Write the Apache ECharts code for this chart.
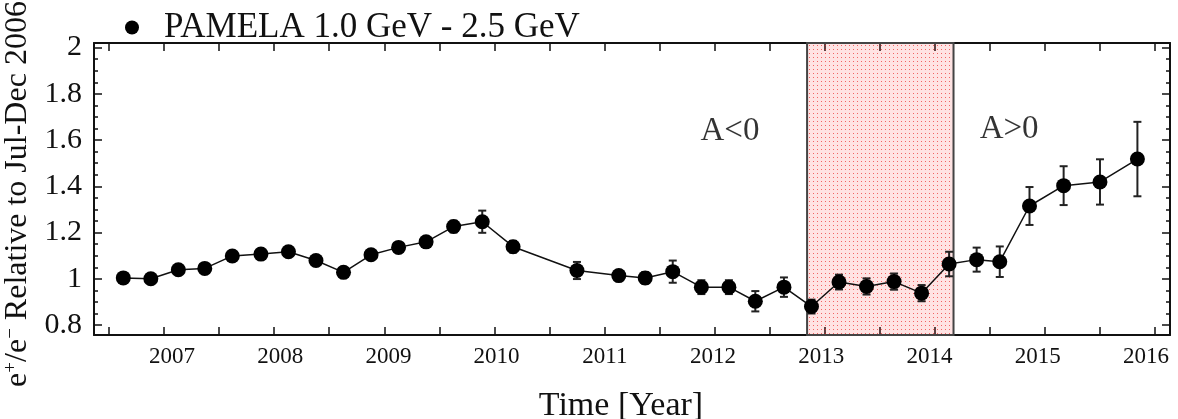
<!DOCTYPE html>
<html><head><meta charset="utf-8">
<script src="https://cdn.jsdelivr.net/npm/echarts@6/dist/echarts.min.js"></script>
<style>html,body{margin:0;padding:0;background:#fff}#c{width:1178px;height:419px}</style>
</head><body><div id="c"></div>
<script>
// ---- data ----
const seriesName = 'PAMELA 1.0 GeV - 2.5 GeV';
const years = [2006.63, 2006.88, 2007.13, 2007.37, 2007.62, 2007.88, 2008.13, 2008.38, 2008.63, 2008.88,
  2009.13, 2009.38, 2009.63, 2009.89, 2010.17, 2010.75, 2011.13, 2011.37, 2011.62, 2011.88,
  2012.13, 2012.37, 2012.63, 2012.88, 2013.13, 2013.38, 2013.63, 2013.88, 2014.13, 2014.38,
  2014.59, 2014.86, 2015.17, 2015.50, 2015.84];
const ratio = [1.004, 1.000, 1.039, 1.045, 1.099, 1.107, 1.117, 1.079, 1.028, 1.104,
  1.136, 1.160, 1.226, 1.247, 1.139, 1.036, 1.014, 1.004, 1.031, 0.964,
  0.964, 0.903, 0.964, 0.880, 0.986, 0.967, 0.988, 0.938, 1.064, 1.083,
  1.074, 1.315, 1.403, 1.419, 1.518];
const errors = [0.012, 0.012, 0.012, 0.012, 0.015, 0.015, 0.015, 0.015, 0.015, 0.015,
  0.015, 0.018, 0.025, 0.048, 0.025, 0.037, 0.020, 0.025, 0.048, 0.030,
  0.030, 0.044, 0.042, 0.030, 0.032, 0.035, 0.035, 0.035, 0.053, 0.052,
  0.066, 0.082, 0.084, 0.098, 0.161];
const yearLabels = [2007, 2008, 2009, 2010, 2011, 2012, 2013, 2014, 2015, 2016];
const xTickValues = [2006.5, 2007, 2007.5, 2008, 2008.5, 2009, 2009.5, 2010, 2010.5, 2011, 2011.5,
  2012, 2012.5, 2013, 2013.5, 2014, 2014.5, 2015, 2015.5, 2016];
const yLabelValues = [0.8, 1, 1.2, 1.4, 1.6, 1.8, 2];
const yMinorValues = [0.8, 0.85, 0.9, 0.95, 1, 1.05, 1.1, 1.15, 1.2, 1.25, 1.3, 1.35, 1.4, 1.45,
  1.5, 1.55, 1.6, 1.65, 1.7, 1.75, 1.8, 1.85, 1.9, 1.95, 2];
const shadedPeriod = [2012.84, 2014.17];
const annotations = [
  { text: 'A<0', x: 2012.14, y: 1.637 },
  { text: 'A>0', x: 2014.675, y: 1.645 }
];

// ---- chart ----
const FONT = "'Liberation Serif', 'DejaVu Serif', serif";
const INK = '#111';
const xRange = [2006.364, 2016.136];
const xLabelRange = [2006.28, 2016.222];
const yRange = [0.757, 2.02];

const pc = document.createElement('canvas');
pc.width = 4; pc.height = 4;
const g = pc.getContext('2d');
g.fillStyle = 'rgba(255,0,0,0.11)'; g.fillRect(0, 0, 4, 4);
g.fillStyle = 'rgba(235,30,30,0.65)'; g.fillRect(1, 1, 1, 1);

const frameLine = { show: true, lineStyle: { color: INK, width: 2 } };
function tickAxisX(pos) {
  return { type: 'value', position: pos, min: xRange[0], max: xRange[1],
    axisLine: frameLine,
    axisTick: { show: true, inside: true, length: 8, customValues: xTickValues, lineStyle: { color: INK, width: 1.5 } },
    axisLabel: { show: false }, splitLine: { show: false } };
}
function tickAxisY(pos, values, len, line) {
  return { type: 'value', position: pos, min: yRange[0], max: yRange[1],
    axisLine: line ? frameLine : { show: false },
    axisTick: { show: true, inside: true, length: len, customValues: values, lineStyle: { color: INK, width: 1.5 } },
    axisLabel: { show: false }, splitLine: { show: false } };
}

const chart = echarts.init(document.getElementById('c'), null, { renderer: 'canvas' });
chart.setOption({
  animation: false,
  backgroundColor: '#fff',
  grid: { left: 94, right: 8, top: 43, bottom: 84, containLabel: false, outerBoundsMode: 'none' },
  legend: {
    data: [seriesName], left: 120, top: 5, icon: 'circle', itemWidth: 14, itemHeight: 14,
    textStyle: { fontFamily: FONT, fontSize: 35, color: INK, padding: [0, 0, 0, 20] }
  },
  xAxis: [
    tickAxisX('bottom'),
    { type: 'value', position: 'bottom', min: xLabelRange[0], max: xLabelRange[1],
      axisLine: { show: false }, axisTick: { show: false }, splitLine: { show: false },
      axisLabel: { customValues: yearLabels, margin: 10, fontFamily: FONT, fontSize: 23, color: INK,
        formatter: v => String(v) },
      name: 'Time [Year]', nameLocation: 'middle', nameGap: 54,
      nameTextStyle: { fontFamily: FONT, fontSize: 34, color: INK, padding: [0, 22, 0, 0] } },
    tickAxisX('top')
  ],
  yAxis: [
    { type: 'value', position: 'left', min: yRange[0], max: yRange[1],
      axisLine: frameLine,
      axisTick: { show: true, inside: true, length: 8, customValues: yLabelValues, lineStyle: { color: INK, width: 1.5 } },
      axisLabel: { customValues: yLabelValues, margin: 12, fontFamily: FONT, fontSize: 30, color: INK,
        formatter: v => String(Math.round(v * 10) / 10) },
      splitLine: { show: false },
      name: 'e{sup|+}/e{sup|\u2212} Relative to Jul-Dec 2006', nameLocation: 'middle', nameGap: 56, nameRotate: 90,
      nameTextStyle: { fontFamily: FONT, fontSize: 32, color: INK, padding: [0, 10, 0, 0],
        rich: { sup: { fontFamily: FONT, fontSize: 19, color: INK, verticalAlign: 'top' } } } },
    tickAxisY('left', yMinorValues, 4, false),
    tickAxisY('right', yLabelValues, 8, true),
    tickAxisY('right', yMinorValues, 4, false)
  ],
  series: [
    { name: seriesName, type: 'line', xAxisIndex: 0, yAxisIndex: 0,
      data: years.map((x, i) => [x, ratio[i]]),
      symbol: 'circle', symbolSize: 15, itemStyle: { color: '#000' },
      lineStyle: { color: INK, width: 1.5 }, z: 3 },
    { name: 'errors', type: 'custom', xAxisIndex: 0, yAxisIndex: 0, z: 2,
      data: years.map((x, i) => [x, ratio[i] - errors[i], ratio[i] + errors[i]]),
      encode: { x: 0, y: [1, 2] },
      renderItem: function (params, api) {
        const x = api.value(0);
        const lo = api.coord([x, api.value(1)]);
        const hi = api.coord([x, api.value(2)]);
        const cw = 4;
        const st = { stroke: '#222', lineWidth: 2 };
        return { type: 'group', children: [
          { type: 'line', shape: { x1: hi[0], y1: hi[1], x2: lo[0], y2: lo[1] }, style: st },
          { type: 'line', shape: { x1: hi[0] - cw, y1: hi[1], x2: hi[0] + cw, y2: hi[1] }, style: st },
          { type: 'line', shape: { x1: lo[0] - cw, y1: lo[1], x2: lo[0] + cw, y2: lo[1] }, style: st }
        ] };
      } },
    { name: 'annot', type: 'scatter', xAxisIndex: 0, yAxisIndex: 0, z: 10,
      data: annotations.map(a => ({ value: [a.x, a.y], name: a.text })),
      symbolSize: 0, silent: true,
      label: { show: true, position: 'inside', formatter: p => p.name,
        fontFamily: FONT, fontSize: 33, color: '#000', textBorderWidth: 0, textBorderColor: 'transparent' },
      markArea: { silent: true,
        itemStyle: { color: { image: pc, repeat: 'repeat' }, borderColor: '#444', borderWidth: 2 },
        data: [[{ xAxis: shadedPeriod[0] }, { xAxis: shadedPeriod[1] }]] } }
  ]
});
</script></body></html>
